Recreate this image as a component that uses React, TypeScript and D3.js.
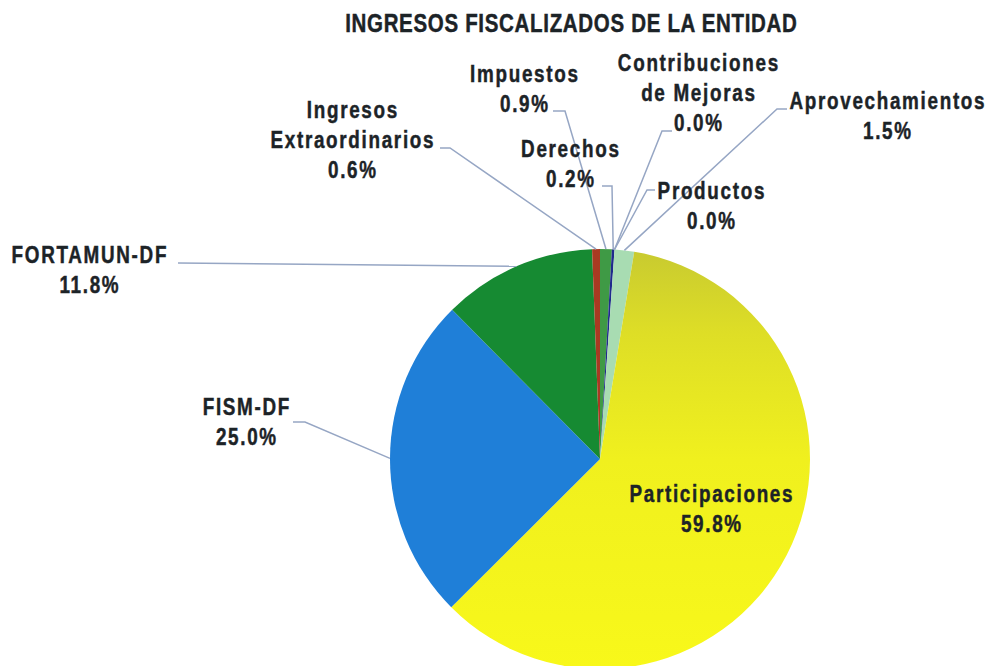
import React from "react";
import * as d3 from "d3";

const title = "INGRESOS FISCALIZADOS DE LA ENTIDAD";
const categories = [
  "Impuestos",
  "Derechos",
  "Contribuciones de Mejoras",
  "Productos",
  "Aprovechamientos",
  "Participaciones",
  "FISM-DF",
  "FORTAMUN-DF",
  "Ingresos Extraordinarios",
];
const values = [0.9, 0.2, 0.0, 0.0, 1.5, 59.8, 25.0, 11.8, 0.6];
const labelLines = [
  ["Impuestos"],
  ["Derechos"],
  ["Contribuciones", "de Mejoras"],
  ["Productos"],
  ["Aprovechamientos"],
  ["Participaciones"],
  ["FISM-DF"],
  ["FORTAMUN-DF"],
  ["Ingresos", "Extraordinarios"],
];
const colors = [
  "#3f9a45",
  "#1f2a8c",
  "#2a3a9a",
  "#7fc080",
  "#a8dcb2",
  "url(#partGrad)",
  "#1f7fd8",
  "#168a32",
  "#a83a22",
];

// layout (positions only)
const CX = 600;
const CY = 459;
const R = 210;
const LINE_H = 30;
const SX = 0.82; // horizontal condensing to mimic a narrow face
type Lay = { x: number; y: number; leader: [number, number][] | null };
const layout: Lay[] = [
  { x: 524, y: 82, leader: [[553, 111], [565, 111]] },
  { x: 570, y: 157, leader: [[602, 186], [612, 186]] },
  { x: 698, y: 71, leader: [[672, 131], [662, 131]] },
  { x: 711, y: 199, leader: [[655, 190], [647, 190]] },
  { x: 887, y: 109, leader: [[787, 109], [777, 109]] },
  { x: 711, y: 502, leader: null },
  { x: 246, y: 415, leader: [[293, 422], [305, 422]] },
  { x: 89, y: 263, leader: [[178, 263]] },
  { x: 352, y: 118, leader: [[440, 148], [450, 148]] },
];

const FONT = "'Liberation Sans', Arial, sans-serif";

function NarrowText(props: {
  x: number;
  y: number;
  text: string;
  size: number;
  spacing: number;
}) {
  const { x, y, text, size, spacing } = props;
  return (
    <g transform={`translate(${x + spacing * SX * 0.5},${y}) scale(${SX},1)`}>
      <text
        x={0}
        y={0}
        textAnchor="middle"
        fontFamily={FONT}
        fontWeight="bold"
        fontSize={size}
        letterSpacing={spacing}
        fill="#1c2327"
        stroke="#1c2327"
        strokeWidth={0.45}
      >
        {text}
      </text>
    </g>
  );
}

export default function App() {
  const data = categories.map((c, i) => ({ c, v: values[i], i }));
  const pie = d3
    .pie<{ c: string; v: number; i: number }>()
    .value((d) => d.v)
    .sort(null)
    .startAngle(0)
    .endAngle(2 * Math.PI);
  const arcs = pie(data);
  const arc = d3
    .arc<d3.PieArcDatum<{ c: string; v: number; i: number }>>()
    .innerRadius(0)
    .outerRadius(R);
  const pt = (a: number, r: number): [number, number] => [
    CX + r * Math.sin(a),
    CY - r * Math.cos(a),
  ];
  const line = d3.line();

  return (
    <svg
      width={990}
      height={666}
      style={{ position: "absolute", left: 0, top: 0, background: "#fff" }}
    >
      <defs>
        <linearGradient id="partGrad" gradientUnits="userSpaceOnUse" x1={0} y1={-R} x2={0} y2={R}>
          <stop offset="0" stopColor="#c8ca30" />
          <stop offset="0.2" stopColor="#dede26" />
          <stop offset="0.5" stopColor="#f0f01e" />
          <stop offset="1" stopColor="#f8f81a" />
        </linearGradient>
      </defs>
      <NarrowText x={571} y={32} text={title} size={25} spacing={0.83} />
      <g transform={`translate(${CX},${CY})`}>
        {arcs.map((a, i) =>
          a.endAngle - a.startAngle > 0 ? (
            <path key={i} d={arc(a) || ""} fill={colors[i]} />
          ) : null
        )}
      </g>
      {arcs.map((a, i) => {
        const L = layout[i];
        if (!L.leader) return null;
        const mid = (a.startAngle + a.endAngle) / 2;
        const pts = [...L.leader, pt(mid, R)] as [number, number][];
        return (
          <path
            key={"l" + i}
            d={line(pts) || ""}
            fill="none"
            stroke="#96a6c4"
            strokeWidth={1.5}
          />
        );
      })}
      {arcs.map((a, i) => {
        const L = layout[i];
        const lines = [...labelLines[i], values[i].toFixed(1) + "%"];
        return (
          <g key={"t" + i}>
            {lines.map((s, k) => (
              <NarrowText
                key={k}
                x={L.x}
                y={L.y + k * LINE_H}
                text={s}
                size={23}
                spacing={2.07}
              />
            ))}
          </g>
        );
      })}
    </svg>
  );
}
